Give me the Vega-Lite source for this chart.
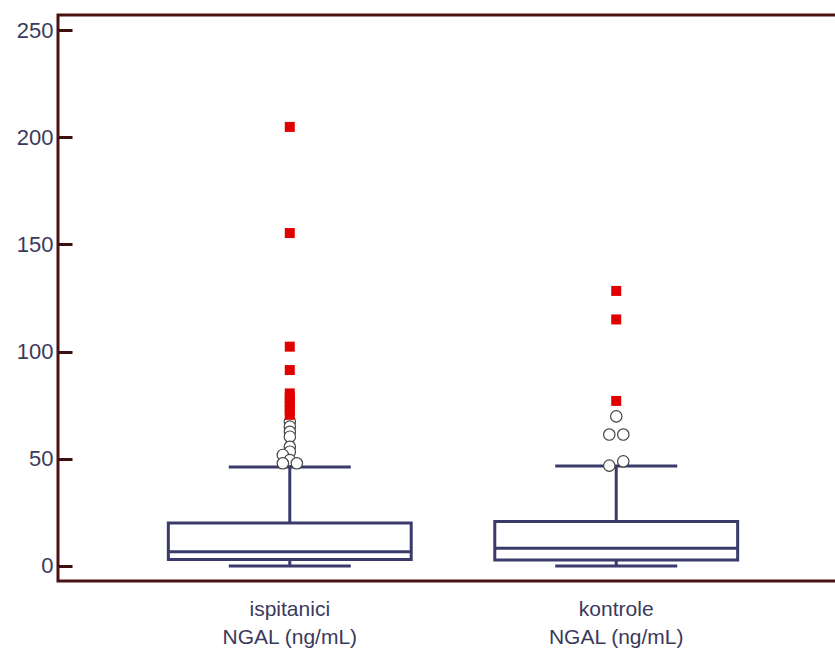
{
  "$schema": "https://vega.github.io/schema/vega-lite/v6.json",
  "autosize": "none",
  "padding": {"left": 58, "top": 15, "right": 0, "bottom": 69},
  "width": 790,
  "height": 566,
  "background": "white",
  "config": {
    "view": {"stroke": "#4a1212", "strokeWidth": 3},
    "font": "Liberation Sans"
  },
  "resolve": {"scale": {"xOffset": "independent"}},
  "datasets": {
    "boxes": [
      {"group": "ispitanici", "min": 0, "q1": 3, "median": 6.7, "q3": 20, "max": 46.2},
      {"group": "kontrole", "min": 0, "q1": 2.8, "median": 8.3, "q3": 20.7, "max": 46.6}
    ],
    "outliers": [
      {"group": "ispitanici", "value": 204.8, "kind": "far", "side": "c"},
      {"group": "ispitanici", "value": 155.3, "kind": "far", "side": "c"},
      {"group": "ispitanici", "value": 102.3, "kind": "far", "side": "c"},
      {"group": "ispitanici", "value": 91.4, "kind": "far", "side": "c"},
      {"group": "ispitanici", "value": 80.5, "kind": "far", "side": "c"},
      {"group": "ispitanici", "value": 78.5, "kind": "far", "side": "c"},
      {"group": "ispitanici", "value": 76.5, "kind": "far", "side": "c"},
      {"group": "ispitanici", "value": 74.5, "kind": "far", "side": "c"},
      {"group": "ispitanici", "value": 72.5, "kind": "far", "side": "c"},
      {"group": "ispitanici", "value": 70.5, "kind": "far", "side": "c"},
      {"group": "ispitanici", "value": 67.3, "kind": "near", "side": "c"},
      {"group": "ispitanici", "value": 65.0, "kind": "near", "side": "c"},
      {"group": "ispitanici", "value": 62.6, "kind": "near", "side": "c"},
      {"group": "ispitanici", "value": 60.3, "kind": "near", "side": "c"},
      {"group": "ispitanici", "value": 55.6, "kind": "near", "side": "c"},
      {"group": "ispitanici", "value": 53.3, "kind": "near", "side": "c"},
      {"group": "ispitanici", "value": 51.8, "kind": "near", "side": "l"},
      {"group": "ispitanici", "value": 49.4, "kind": "near", "side": "c"},
      {"group": "ispitanici", "value": 47.9, "kind": "near", "side": "l"},
      {"group": "ispitanici", "value": 47.9, "kind": "near", "side": "r"},
      {"group": "kontrole", "value": 128.3, "kind": "far", "side": "c"},
      {"group": "kontrole", "value": 115.0, "kind": "far", "side": "c"},
      {"group": "kontrole", "value": 77.0, "kind": "far", "side": "c"},
      {"group": "kontrole", "value": 69.8, "kind": "near", "side": "c"},
      {"group": "kontrole", "value": 61.3, "kind": "near", "side": "l"},
      {"group": "kontrole", "value": 61.3, "kind": "near", "side": "r"},
      {"group": "kontrole", "value": 46.8, "kind": "near", "side": "l"},
      {"group": "kontrole", "value": 48.8, "kind": "near", "side": "r"}
    ]
  },
  "encoding": {
    "x": {
      "field": "group",
      "type": "nominal",
      "sort": ["ispitanici", "kontrole"],
      "scale": {"paddingInner": 0.256, "paddingOuter": 0.338},
      "axis": {
        "title": null,
        "labelAngle": 0,
        "ticks": false,
        "domain": false,
        "labelFontSize": 21,
        "labelColor": "#3a3a5c",
        "labelPadding": 17,
        "labelLineHeight": 28,
        "labelExpr": "[datum.label, 'NGAL (ng/mL)']"
      }
    }
  },
  "layer": [
    {
      "data": {"name": "boxes"},
      "mark": {"type": "rule", "color": "#3a3b6b", "strokeWidth": 3},
      "encoding": {
        "y": {
          "field": "q3",
          "type": "quantitative",
          "scale": {"domain": [-7, 257], "nice": false, "zero": false},
          "axis": {
            "title": null,
            "values": [0, 50, 100, 150, 200, 250],
            "grid": false,
            "domain": false,
            "tickSize": -14,
            "tickWidth": 3,
            "tickColor": "#3a1010",
            "labelFontSize": 22,
            "labelColor": "#3a3a5c",
            "labelPadding": 19
          }
        },
        "y2": {"field": "max"}
      }
    },
    {
      "data": {"name": "boxes"},
      "mark": {"type": "rule", "color": "#3a3b6b", "strokeWidth": 3},
      "encoding": {
        "y": {"field": "min", "type": "quantitative"},
        "y2": {"field": "q1"}
      }
    },
    {
      "data": {"name": "boxes"},
      "mark": {"type": "bar", "fill": "white", "stroke": "#3a3b6b", "strokeWidth": 3, "opacity": 1},
      "encoding": {
        "y": {"field": "q1", "type": "quantitative"},
        "y2": {"field": "q3"}
      }
    },
    {
      "data": {"name": "boxes"},
      "mark": {"type": "tick", "color": "#3a3b6b", "size": 243, "thickness": 3, "opacity": 1},
      "encoding": {"y": {"field": "median", "type": "quantitative"}}
    },
    {
      "data": {"name": "boxes"},
      "mark": {"type": "tick", "color": "#3a3b6b", "size": 122, "thickness": 3, "opacity": 1},
      "encoding": {"y": {"field": "max", "type": "quantitative"}}
    },
    {
      "data": {"name": "boxes"},
      "mark": {"type": "tick", "color": "#3a3b6b", "size": 122, "thickness": 3, "opacity": 1},
      "encoding": {"y": {"field": "min", "type": "quantitative"}}
    },
    {
      "data": {"name": "outliers"},
      "transform": [{"filter": "datum.kind === 'near'"}],
      "mark": {"type": "point", "shape": "circle", "filled": true, "fill": "white", "stroke": "#444444", "strokeWidth": 1.2, "size": 130, "opacity": 1},
      "encoding": {
        "y": {"field": "value", "type": "quantitative"},
        "xOffset": {"field": "side", "type": "nominal", "scale": {"type": "point", "padding": 0, "domain": ["l", "c", "r"], "range": [114.5, 128.5]}}
      }
    },
    {
      "data": {"name": "outliers"},
      "transform": [{"filter": "datum.kind === 'far'"}],
      "mark": {"type": "point", "shape": "square", "filled": true, "color": "#e00000", "size": 100, "opacity": 1},
      "encoding": {"y": {"field": "value", "type": "quantitative"}}
    }
  ]
}
